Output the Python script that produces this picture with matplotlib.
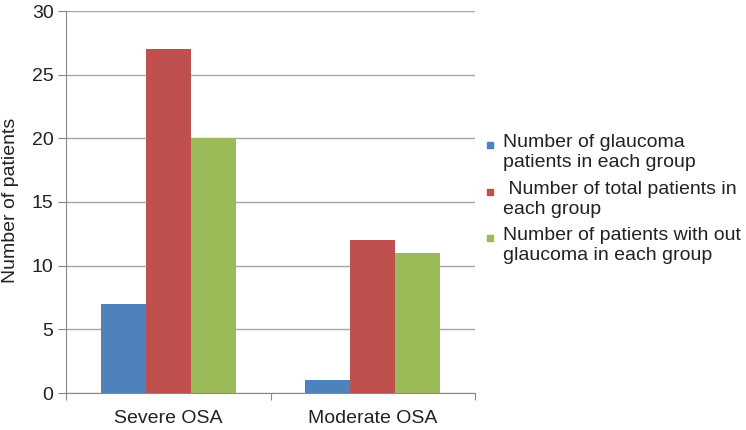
import numpy as np
import matplotlib.pyplot as plt
from matplotlib.patches import Rectangle

# chart data
groups = ['Severe OSA', 'Moderate OSA']
series_names = ['Number of glaucoma\npatients in each group',
                ' Number of total patients in\neach group',
                'Number of patients with out\nglaucoma in each group']
glaucoma = [7, 1]
total = [27, 12]
without_glaucoma = [20, 11]
colors = ['#4F81BD', '#C0504D', '#9BBB59']
yticks = [0, 5, 10, 15, 20, 25, 30]

plt.rcParams['font.family'] = ['Liberation Sans', 'DejaVu Sans']
fs = 14

fig = plt.figure(figsize=(7.46, 4.30), dpi=100)
ax = fig.add_axes([66/746, 37/430, 409/746, 382/430])

x = np.arange(len(groups))
w = 0.22
for i, vals in enumerate([glaucoma, total, without_glaucoma]):
    ax.bar(x + (i - 1)*w, vals, w, color=colors[i], zorder=3)

ax.set_xlim(-0.5, 1.5)
ax.set_ylim(0, 30)
ax.set_yticks(yticks)
ax.set_xticks([-0.5, 0.5, 1.5])
ax.set_xticklabels([])
ax.set_xticks(x, minor=True)
ax.set_xticklabels(groups, minor=True, fontsize=fs, color='#222222')
ax.tick_params(axis='x', which='minor', length=0, pad=12)
ax.tick_params(axis='x', which='major', length=5, color='#888888')
ax.tick_params(axis='y', length=6, color='#888888', labelsize=fs, pad=3,
               labelcolor='#222222')
ax.grid(axis='y', color='#a6a6a6', linewidth=1, zorder=0)
for s in ['top', 'right']:
    ax.spines[s].set_visible(False)
for s in ['left', 'bottom']:
    ax.spines[s].set_color('#888888')
fig.text(11/746, 1 - 200/430, 'Number of patients', fontsize=fs, rotation=90,
         ha='center', va='center', color='#222222')

# legend, marker aligned with first text line
ys = [145, 192, 238]
for i, name in enumerate(series_names):
    yf = 1 - ys[i]/430
    fig.patches.append(Rectangle((487/746, yf - 3/430), 6/746, 6/430,
                                 transform=fig.transFigure, color=colors[i]))
    fig.text(503/746, yf + 11/430, name, fontsize=fs, va='top', ha='left',
             linespacing=1.2, color='#222222')

fig.savefig('out.png', dpi=100)
